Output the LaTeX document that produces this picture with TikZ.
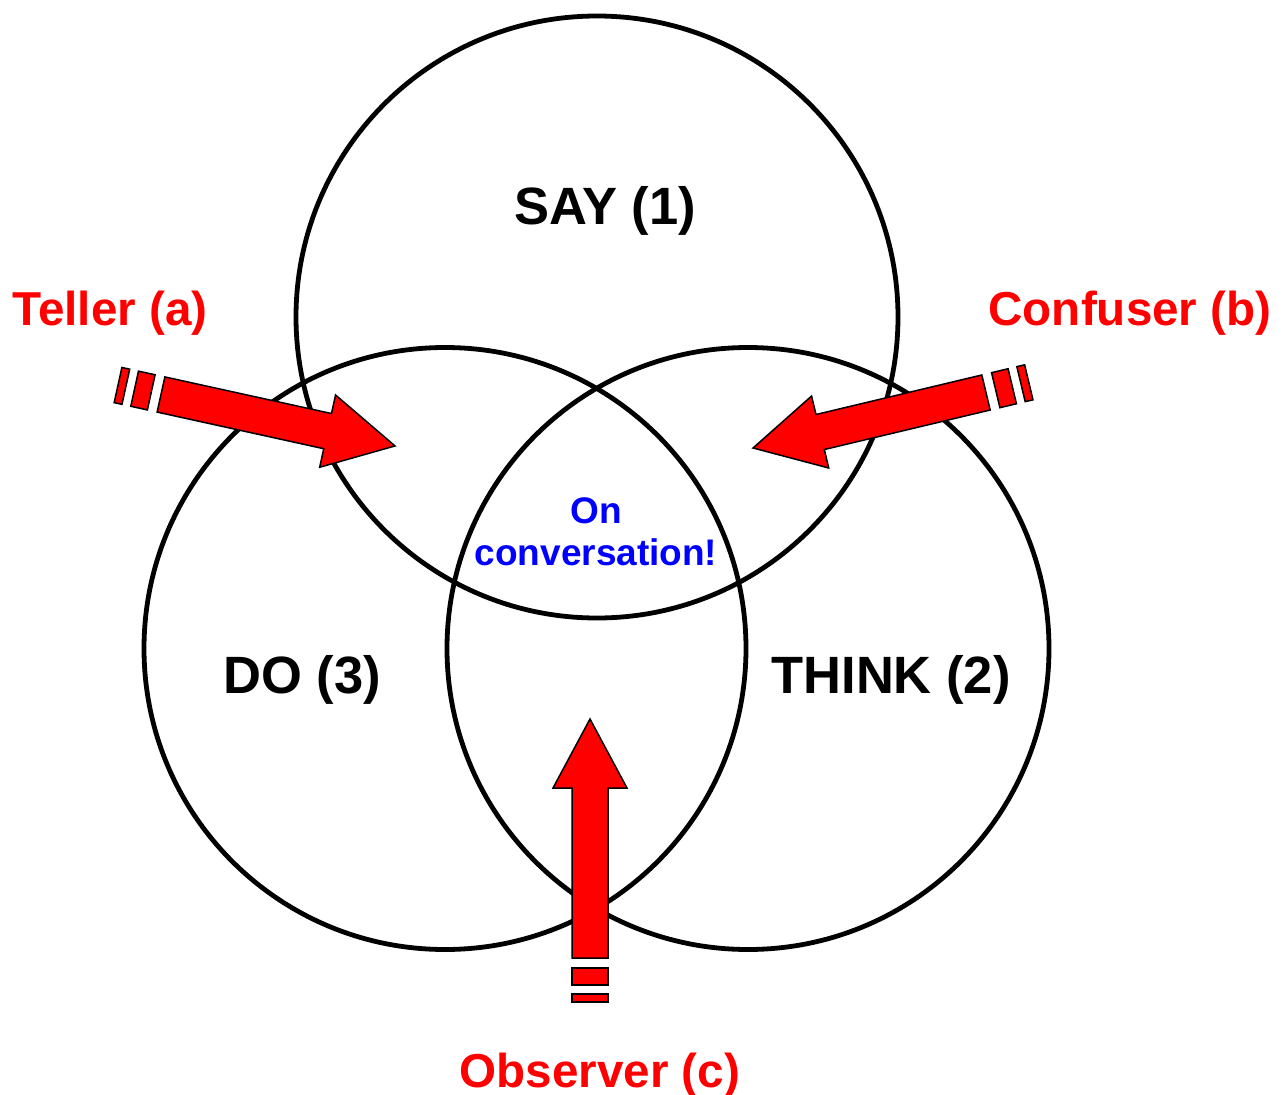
\documentclass[tikz,border=0pt]{standalone}
\usepackage{fontspec}
\setmainfont{Liberation Sans}
\newcommand\blockarrowshape[1]{%
  \filldraw[arrowbody] (0,-18) -- (#1-69,-18) -- (#1-69,-37) -- (#1,0) -- (#1-69,37) -- (#1-69,18) -- (0,18) -- cycle;
  \filldraw[arrowbody] (-10,-18) rectangle (-27,18);
  \filldraw[arrowbody] (-36,-18) rectangle (-44,18);
  \coordinate (tip) at (#1,0);
}
\begin{document}
\begin{tikzpicture}[x=1pt,y=-1pt,
  ring/.style={circle, draw=black, line width=4.8pt, minimum size=602pt, inner sep=0pt},
  lbl/.style={font=\bfseries\fontsize{52.5}{60}\selectfont},
  role/.style={text=red, font=\bfseries\fontsize{47.6}{56}\selectfont},
  arrowbody/.style={fill=red, draw=black, line width=1.5pt, line join=miter}]
\useasboundingbox (0,0) rectangle (1286,1095);
\node[ring] (say) at (597,317) {};
\node[ring] (do) at (445,648.5) {};
\node[ring] (think) at (748,648.5) {};

\begin{scope}[shift={(161,394.5)}, rotate=-12.4]
  \blockarrowshape{239.6}
\end{scope}
\begin{scope}[shift={(986,392.5)}, rotate=193.4]
  \blockarrowshape{239.5}
\end{scope}
\begin{scope}[shift={(590,958)}, rotate=90]
  \blockarrowshape{239}
\end{scope}

\node[lbl] (saylbl) at (605,211) {SAY (1)};
\node[lbl] (dolbl) at (302,680) {DO (3)};
\node[lbl] (thinklbl) at (891,680) {THINK (2)};
\node[role] (teller) at (110,313) {Teller (a)};
\node[role] (confuser) at (1130,313) {Confuser (b)};
\node[role] (observer) at (600,1075) {Observer (c)};
\node[text=blue, align=center, font=\bfseries\fontsize{37}{42}\selectfont] (center) at (596,532) {On\\conversation!};
\end{tikzpicture}
\end{document}
